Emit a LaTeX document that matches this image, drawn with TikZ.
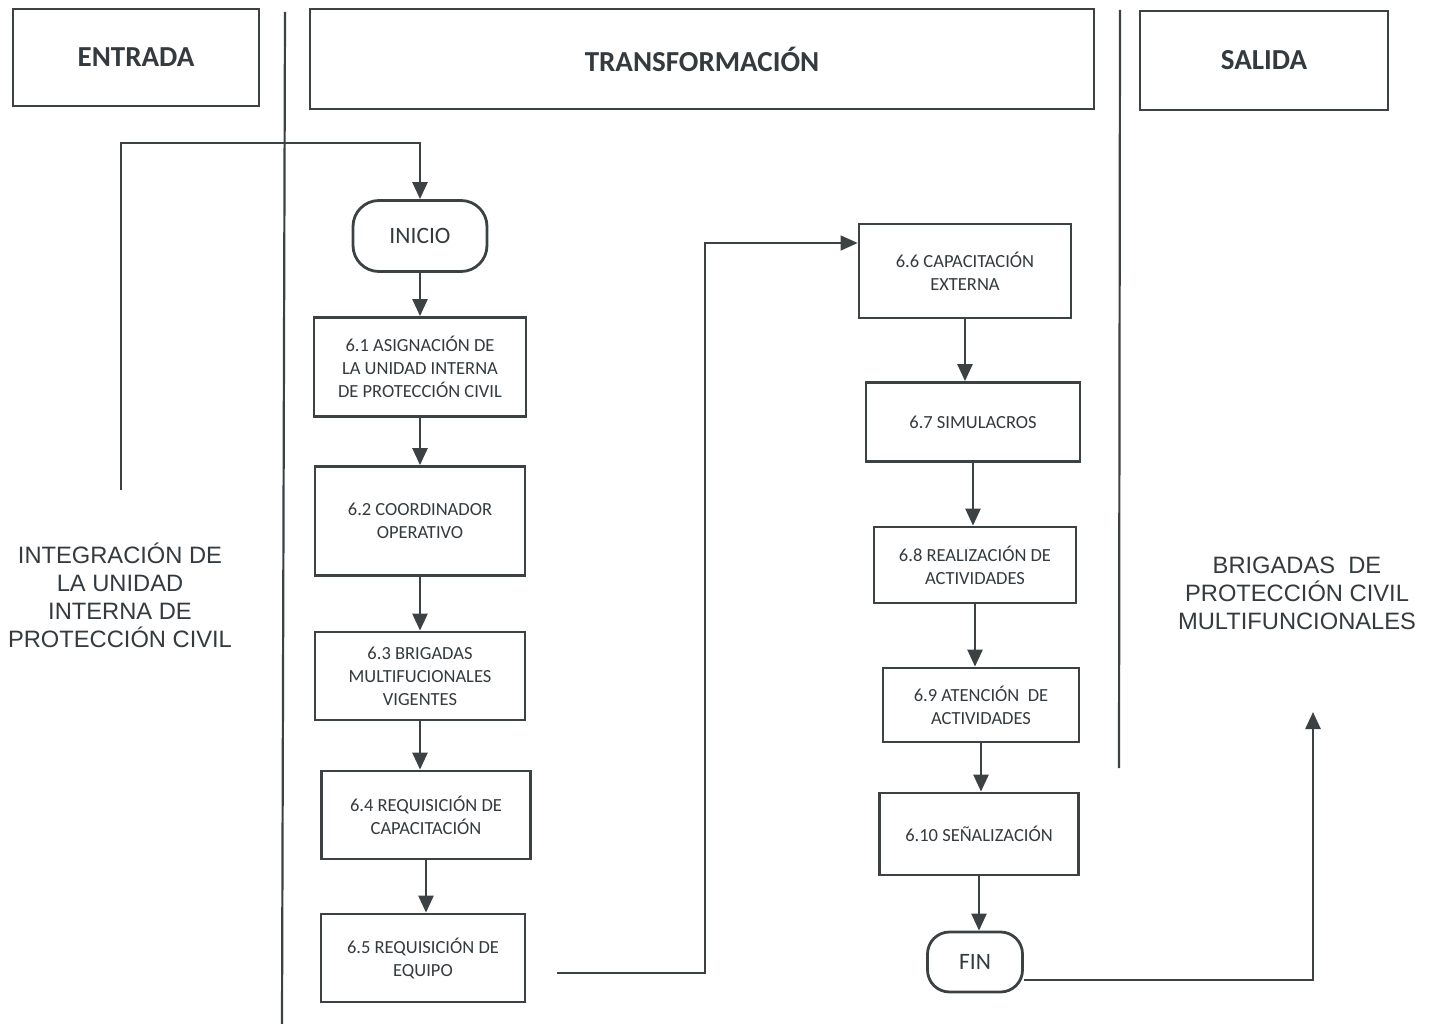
\documentclass[tikz,border=0pt]{standalone}
\usepackage{fontspec}
\setmainfont{Carlito}
\newfontfamily\arialfont{Liberation Sans}
\usetikzlibrary{positioning, arrows.meta}
\definecolor{inkgray}{RGB}{60,66,68}
\definecolor{textgray}{RGB}{52,58,62}

\begin{document}
\begin{tikzpicture}[x=1pt, y=-1pt, on grid, node distance=140pt,
    every node/.style={text=textgray, align=center},
    header/.style={draw=inkgray, line width=2.6pt, inner sep=0pt, font=\bfseries\fontsize{29}{34}\selectfont},
    process/.style={draw=inkgray, line width=2.8pt, inner sep=0pt, font=\fontsize{18.5}{23}\selectfont},
    terminal/.style={process, rounded corners=26pt, font=\fontsize{23.5}{28}\selectfont},
    sidetext/.style={font=\arialfont\fontsize{23.7}{28}\selectfont},
    tip/.style={color=inkgray, line width=2.5pt, -{Triangle[width=15pt,length=17pt]}},
    flow/.style={draw, tip},
    sep/.style={draw=inkgray, line width=2.2pt}]
    \useasboundingbox (0,0) rectangle (1435,1024);
    \fill[white] (0,0) rectangle (1435,1024);

    % headers
    \node[header, minimum width=246pt, minimum height=97pt] (h_in) at (136,57.5) {ENTRADA};
    \node[header, minimum width=784pt, minimum height=100pt] (h_tr) at (702,59) {TRANSFORMACIÓN};
    \node[header, minimum width=248pt, minimum height=99pt] (h_out) at (1264,60.5) {SALIDA};

    \draw[sep] (285,12) -- (282,1024);
    \draw[sep] (1120,10) -- (1119,768);

    % left column
    \node[terminal, minimum width=134pt, minimum height=71pt] (ini) at (420,236) {INICIO};
    \node[process, minimum width=212pt, minimum height=99pt] (p_1) [below=131pt of ini] {6.1 ASIGNACIÓN DE\\LA UNIDAD INTERNA\\DE PROTECCIÓN CIVIL};
    \node[process, minimum width=210pt, minimum height=109pt] (p_2) [below=154pt of p_1] {6.2 COORDINADOR\\OPERATIVO};
    \node[process, minimum width=210pt, minimum height=88pt] (p_3) [below=155pt of p_2] {6.3 BRIGADAS\\MULTIFUCIONALES\\VIGENTES};
    \node[process, minimum width=209pt, minimum height=88pt] (p_4) [below=139pt of p_3, xshift=6pt] {6.4 REQUISICIÓN DE\\CAPACITACIÓN};
    \node[process, minimum width=204pt, minimum height=88pt] (p_5) [below=143pt of p_4, xshift=-3pt] {6.5 REQUISICIÓN DE\\EQUIPO};

    % right column
    \node[process, minimum width=212pt, minimum height=94pt] (p_6) at (965,271) {6.6 CAPACITACIÓN\\EXTERNA};
    \node[process, minimum width=214pt, minimum height=79pt] (p_7) [below=151pt of p_6, xshift=8pt] {6.7 SIMULACROS};
    \node[process, minimum width=202pt, minimum height=76pt] (p_8) [below=143pt of p_7, xshift=2pt] {6.8 REALIZACIÓN DE\\ACTIVIDADES};
    \node[process, minimum width=196pt, minimum height=74pt] (p_9) [below=140pt of p_8, xshift=6pt] {6.9 ATENCIÓN\ \ DE\\ACTIVIDADES};
    \node[process, minimum width=199pt, minimum height=82pt] (p_10) [below=129pt of p_9, xshift=-2pt] {6.10 SEÑALIZACIÓN};
    \node[terminal, minimum width=95pt, minimum height=60pt, rounded corners=22pt] (fin) [below=128pt of p_10, xshift=-4pt] {FIN};

    % input and output
    \node[sidetext] (t_in) at (120,595) {INTEGRACIÓN DE\\LA UNIDAD\\INTERNA DE\\PROTECCIÓN CIVIL};
    \node[sidetext] (t_out) at (1297,593) {BRIGADAS\ \ DE\\PROTECCIÓN CIVIL\\MULTIFUNCIONALES};

    \coordinate (e_1) at (121,490);
    \coordinate (e_2) at (121,143);
    \coordinate (o_1) at (557,973);
    \coordinate (o_2) at (705,243);
    \coordinate (s_1) at (1313,712);

    \draw[flow] (e_1) -- (e_2) -| (ini);
    \draw[flow, line width=1.6pt] (o_1) -| (o_2) -- (o_2 -| p_6.west);
    \draw[flow] ([yshift=-18pt]fin.east) -| (s_1);

    \path[tip]
        (ini.south) edge (ini.south |- p_1.north)
        (p_1.south) edge (p_1.south |- p_2.north)
        (p_2.south) edge (p_2.south |- p_3.north)
        (p_3.south) edge (p_3.south |- p_4.north)
        (p_4.south) edge (p_4.south |- p_5.north)
        (p_6.south) edge (p_6.south |- p_7.north)
        (p_7.south) edge (p_7.south |- p_8.north)
        (p_8.south) edge (p_8.south |- p_9.north)
        (p_9.south) edge (p_9.south |- p_10.north)
        (p_10.south) edge (p_10.south |- fin.north);
\end{tikzpicture}
\end{document}
